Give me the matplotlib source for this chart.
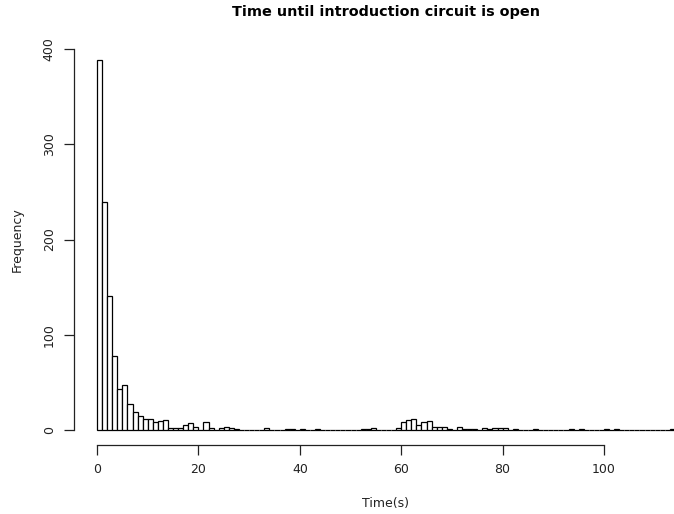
import numpy as np
import matplotlib
matplotlib.use('Agg')
from matplotlib import pyplot as plt

# histogram counts, one per 1 s bin starting at 0
counts = [388, 239, 141, 78, 43, 47, 27, 19, 15, 12,
          12, 8, 9, 10, 2, 2, 2, 5, 7, 3,
          0, 8, 2, 0, 2, 3, 2, 1, 0, 0,
          0, 0, 0, 2, 0, 0, 0, 1, 1, 0,
          1, 0, 0, 1, 0, 0, 0, 0, 0, 0,
          0, 0, 1, 1, 2, 0, 0, 0, 0, 2,
          8, 10, 12, 5, 8, 9, 3, 3, 3, 1,
          0, 3, 1, 1, 1, 0, 2, 1, 2, 2,
          2, 0, 1, 0, 0, 0, 1, 0, 0, 0,
          0, 0, 0, 1, 0, 1, 0, 0, 0, 0,
          1, 0, 1, 0, 0, 0, 0, 0, 0, 0,
          0, 0, 0, 1]
breaks = np.arange(len(counts) + 1)
xticks = [0, 20, 40, 60, 80, 100]
yticks = [0, 100, 200, 300, 400]

fig = plt.figure(figsize=(6.74, 5.14), dpi=100)
# R style plot region: x extended 4% past the breaks, right side runs off the image
ax = fig.add_axes([73.9/674, 69.2/514, 624.2/674, 399.1/514])

ax.bar(breaks[:-1], counts, width=1, align='edge', facecolor='white',
       edgecolor='black', linewidth=0.9)

ext_x = 0.04 * (breaks[-1] - breaks[0])
ax.set_xlim(breaks[0] - ext_x, breaks[-1] + ext_x)
ext_y = 0.04 * max(counts)
ax.set_ylim(-ext_y, max(counts) + ext_y)

for s in ['top', 'right']:
    ax.spines[s].set_visible(False)
ax.spines['bottom'].set_bounds(xticks[0], xticks[-1])
ax.spines['left'].set_bounds(yticks[0], yticks[-1])
for s in ['bottom', 'left']:
    ax.spines[s].set_color('#222222')
    ax.spines[s].set_linewidth(0.9)

ax.set_xticks(xticks)
ax.set_yticks(yticks)
ax.tick_params(direction='out', length=7, width=0.9, color='#222222',
               labelsize=9, labelcolor='#222222', pad=6)
for lab in ax.get_yticklabels():
    lab.set_rotation(90)
    lab.set_va('center')

fig.text(386/674, 1 - 12/514, 'Time until introduction circuit is open',
         ha='center', va='center', fontsize=10.4, fontweight='bold')
fig.text(386/674, 1 - 504/514, 'Time(s)', ha='center', va='center',
         fontsize=9, color='#222222')
fig.text(17/674, 1 - 240/514, 'Frequency', ha='center', va='center',
         rotation=90, fontsize=9, color='#222222')

fig.savefig('out.png', dpi=100)
